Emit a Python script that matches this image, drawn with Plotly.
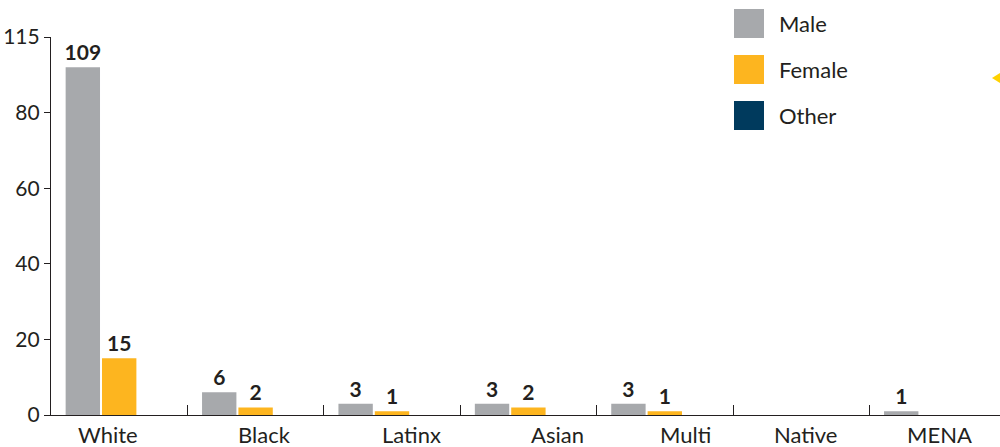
import plotly.graph_objects as go

# ---- data ----
categories = ["White", "Black", "Latinx", "Asian", "Multi", "Native", "MENA"]
male_counts = [109, 6, 3, 3, 3, None, 1]
female_counts = [15, 2, 1, 2, 1, None, None]
other_counts = [None, None, None, None, None, None, None]
# the White/Male bar is drawn on a broken scale in the original (top tick "115" sits at 100)
male_drawn = [92, 6, 3, 3, 3, None, 1]
female_drawn = [15, 2, 1, 2, 1, None, None]
y_tickvals = [0, 20, 40, 60, 80, 100]
y_ticktext = ["0", "20", "40", "60", "80", "115"]
series_names = ["Male", "Female", "Other"]
series_colors = ["#a7a9ac", "#fdb51f", "#003a5d"]

TEXT = "#231f20"
FONT = "Lato"

W, H = 1000, 447
ML, MR, MT, MB = 51, 0, 37, 32
PW, PH = W - ML - MR, H - MT - MB
CAT_PX = 136.4
# horizontal centres (px) where the original places its category labels
label_px = [107.5, 264.5, 411.7, 557.5, 685.5, 805.8, 939.2]


def px(x):
    return (x - ML) / PW


def py(y):
    return (H - MB - y) / PH


def lbl(vals):
    return ["" if v is None else str(v) for v in vals]


fig = go.Figure()
drawn = [male_drawn, female_drawn, other_counts]
counts = [male_counts, female_counts, other_counts]
for name, color, d, c in zip(series_names, series_colors, drawn, counts):
    fig.add_trace(go.Bar(
        x=categories, y=d, name=name, marker=dict(color=color, line=dict(width=0)),
        text=lbl(c), textposition="outside", cliponaxis=False, constraintext="none",
        textfont=dict(family=FONT, size=21, color=TEXT, weight="bold"),
        showlegend=False, hoverinfo="skip",
    ))

shapes = []
annotations = []

# category labels
for cat, lx in zip(categories, label_px):
    annotations.append(dict(xref="paper", yref="paper", x=px(lx), y=py(434),
                            text=cat, showarrow=False, xanchor="center", yanchor="middle",
                            font=dict(family=FONT, size=22, color=TEXT)))

# legend drawn manually (large square swatches)
rows = [(9, 38), (55, 84), (101, 130)]
for (y0, y1), name, color in zip(rows, series_names, series_colors):
    shapes.append(dict(type="rect", xref="paper", yref="paper",
                       x0=px(734), x1=px(764), y0=py(y1), y1=py(y0),
                       fillcolor=color, line=dict(width=0)))
    annotations.append(dict(xref="paper", yref="paper", x=px(777), y=py((y0 + y1) / 2),
                            text=name, showarrow=False, xanchor="left", yanchor="middle",
                            font=dict(family=FONT, size=22, color=TEXT)))

# small yellow pointer at the right edge
shapes.append(dict(type="path", xref="paper", yref="paper",
                   path=f"M {px(992)} {py(78)} L {px(1000)} {py(73)} L {px(1000)} {py(83)} Z",
                   fillcolor="#ffd200", line=dict(width=0)))

fig.update_layout(
    width=W, height=H,
    margin=dict(l=ML, r=MR, t=MT, b=MB, pad=0),
    paper_bgcolor="white", plot_bgcolor="white",
    barmode="group", bargap=0.2, bargroupgap=0.055,
    font=dict(family=FONT, color=TEXT),
    shapes=shapes, annotations=annotations,
    showlegend=False,
)
fig.update_xaxes(
    range=[-0.5, -0.5 + PW / CAT_PX], showline=True, linecolor=TEXT, linewidth=1.2,
    ticks="inside", tickson="boundaries", ticklen=10, tickcolor=TEXT, tickwidth=1,
    showgrid=False, zeroline=False, showticklabels=False, fixedrange=True,
)
fig.update_yaxes(
    range=[0, 100], tickvals=y_tickvals, ticktext=y_ticktext,
    showline=True, linecolor=TEXT, linewidth=1.2, ticks="outside", ticklen=6,
    tickcolor=TEXT, tickwidth=1, showgrid=False, zeroline=False,
    tickfont=dict(family=FONT, size=21, color=TEXT), fixedrange=True,
)

fig.write_html("out.html", config={"displayModeBar": False},
               post_script="document.body.style.margin='0px';document.body.style.overflow='hidden';")
